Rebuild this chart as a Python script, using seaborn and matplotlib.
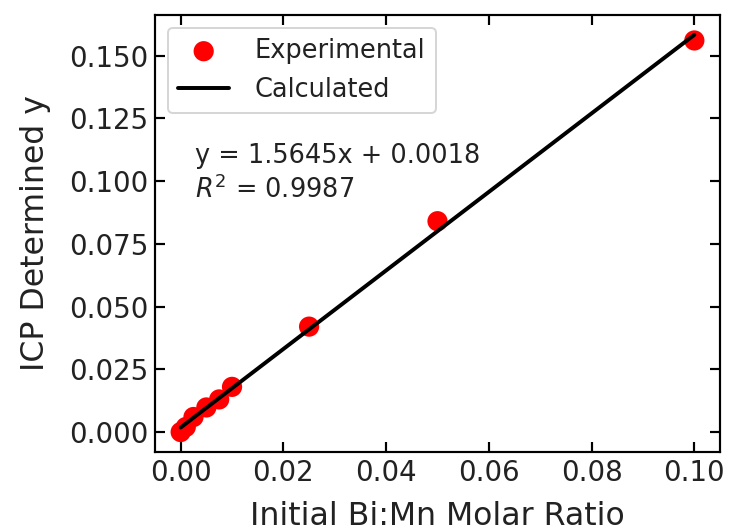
import numpy as np
import pandas as pd
import matplotlib
matplotlib.use("Agg")
import matplotlib.pyplot as plt
import seaborn as sns

# Data
ratio_x = [0.0, 0.001, 0.0025, 0.005, 0.0075, 0.01, 0.025, 0.05, 0.1]
icp_y = [0.0, 0.002, 0.006, 0.0098, 0.013, 0.018, 0.042, 0.084, 0.156]
slope = 1.5645
intercept = 0.0018
r_squared = 0.9987
fit_x = [0.0, 0.1]
x_ticks = [0.00, 0.02, 0.04, 0.06, 0.08, 0.10]
y_ticks = [0.000, 0.025, 0.050, 0.075, 0.100, 0.125, 0.150]

sns.set_style("ticks")
plt.rcParams['font.family'] = ['DejaVu Sans']

exp_df = pd.DataFrame({"x": ratio_x, "y": icp_y})
fit_df = pd.DataFrame({"x": fit_x, "y": [slope * v + intercept for v in fit_x]})

DPI = 142
fig = plt.figure(figsize=(731 / DPI, 531 / DPI), dpi=DPI)
ax = fig.add_axes([0.212, 0.149, 0.773, 0.823])

sns.scatterplot(data=exp_df, x="x", y="y", ax=ax, color="red", s=105,
                edgecolor="none", label="Experimental", zorder=2)
sns.lineplot(data=fit_df, x="x", y="y", ax=ax, color="black", lw=2.0,
             label="Calculated", zorder=3)

ax.set_xlim(-0.005, 0.105)
ax.set_ylim(-0.0079, 0.1662)
ax.set_xticks(x_ticks)
ax.set_yticks(y_ticks)
ax.set_xticklabels([f"{v:.2f}" for v in x_ticks])
ax.set_yticklabels([f"{v:.3f}" for v in y_ticks])
ax.tick_params(direction="in", top=True, right=True, length=5, width=1.1,
               labelsize=14, colors="black", labelcolor="#222222")
for sp in ax.spines.values():
    sp.set_linewidth(1.1)
    sp.set_color("black")

ax.set_xlabel("Initial Bi:Mn Molar Ratio", fontsize=16, color="#222222",
              labelpad=7)
ax.set_ylabel("ICP Determined y", fontsize=16, color="#222222", labelpad=9)

ax.text(0.071, 0.707, f"y = {slope}x + {intercept}\n$R^2$ = {r_squared}",
        transform=ax.transAxes, fontsize=13, va="top", ha="left",
        color="#222222", linespacing=1.3)

leg = ax.legend(loc="upper left", fontsize=13, frameon=True,
                handlelength=2.0, handletextpad=1.0)
for t in leg.get_texts():
    t.set_color("#222222")

fig.savefig("out.png", dpi=DPI)
